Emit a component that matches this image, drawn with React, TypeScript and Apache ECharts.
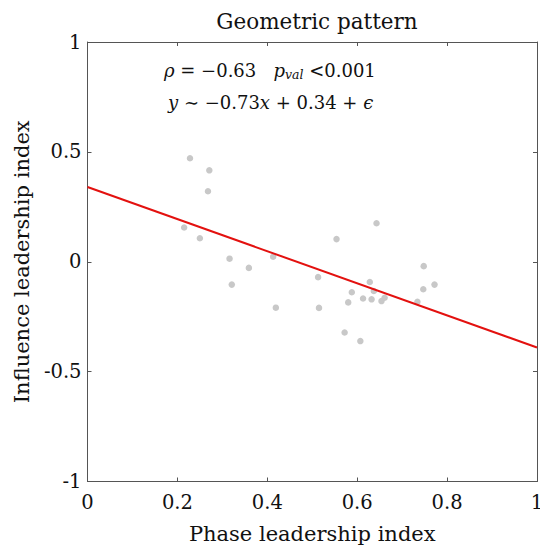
import React, { useEffect, useRef } from "react";
import * as echarts from "echarts";

const phaseIndex = [
  0.228, 0.271, 0.268, 0.215, 0.250, 0.316, 0.321, 0.359, 0.413, 0.419,
  0.513, 0.515, 0.554, 0.572, 0.580, 0.588, 0.607, 0.613, 0.628, 0.632,
  0.637, 0.643, 0.654, 0.661, 0.734, 0.747, 0.748, 0.772,
];
const influenceIndex = [
  0.471, 0.416, 0.321, 0.156, 0.107, 0.014, -0.104, -0.028, 0.023, -0.209,
  -0.070, -0.210, 0.103, -0.322, -0.185, -0.139, -0.361, -0.167, -0.092, -0.171,
  -0.133, 0.175, -0.179, -0.164, -0.182, -0.125, -0.020, -0.104,
];
const fitSlope = -0.73;
const fitIntercept = 0.34;
const fitX = [0, 1];
const xTicks = { min: 0, max: 1, interval: 0.2 };
const yTicks = { min: -1, max: 1, interval: 0.5 };

const FONT = "'DejaVu Serif', serif";

export default function App() {
  const ref = useRef<HTMLDivElement>(null);
  useEffect(() => {
    if (!ref.current) return;
    const chart = echarts.init(ref.current, undefined, { renderer: "svg" });
    const scatter = phaseIndex.map((x, i) => [x, influenceIndex[i]]);
    const fit = fitX.map((x) => [x, fitSlope * x + fitIntercept]);
    const axisLine = { show: true, onZero: false, lineStyle: { color: "#555", width: 1 } };
    const axisTick = { show: true, inside: true, length: 4, lineStyle: { color: "#555" } };
    chart.setOption({
      animation: false,
      backgroundColor: "#fff",
      title: {
        text: "Geometric pattern",
        left: 312,
        textAlign: "center",
        top: 5,
        textStyle: { fontFamily: FONT, fontSize: 21.5, fontWeight: "normal", color: "#111" },
      },
      grid: { left: 87.5, right: 3, top: 42, bottom: 64.5, containLabel: false, outerBoundsMode: "none" },
      xAxis: [
        {
          type: "value",
          min: xTicks.min,
          max: xTicks.max,
          interval: xTicks.interval,
          name: "Phase leadership index",
          nameLocation: "middle",
          nameGap: 42,
          nameTextStyle: { fontFamily: FONT, fontSize: 21, color: "#111" },
          axisLine,
          axisTick,
          axisLabel: { fontFamily: FONT, fontSize: 19.5, color: "#111", margin: 11 },
          splitLine: { show: false },
        },
        {
          type: "value",
          position: "top",
          min: xTicks.min,
          max: xTicks.max,
          interval: xTicks.interval,
          axisLine,
          axisTick,
          axisLabel: { show: false },
          splitLine: { show: false },
        },
      ],
      yAxis: [
        {
          type: "value",
          min: yTicks.min,
          max: yTicks.max,
          interval: yTicks.interval,
          name: "Influence leadership index",
          nameLocation: "middle",
          nameGap: 55,
          nameTextStyle: { fontFamily: FONT, fontSize: 21, color: "#111" },
          axisLine,
          axisTick,
          axisLabel: { fontFamily: FONT, fontSize: 19.5, color: "#111", margin: 6 },
          splitLine: { show: false },
        },
        {
          type: "value",
          position: "right",
          min: yTicks.min,
          max: yTicks.max,
          interval: yTicks.interval,
          axisLine,
          axisTick,
          axisLabel: { show: false },
          splitLine: { show: false },
        },
      ],
      graphic: [
        {
          type: "text",
          left: 164,
          top: 61,
          style: {
            text: "{i|ρ} = −0.63   {i|p}{sub|val} <0.001",
            font: `18px ${FONT}`,
            fill: "#111",
            rich: {
              i: { fontFamily: FONT, fontSize: 18, fontStyle: "italic", fill: "#111" },
              sub: { fontFamily: FONT, fontSize: 12.5, fontStyle: "italic", fill: "#111", padding: [8, 0, 0, 0] },
            },
          },
        },
        {
          type: "text",
          left: 168,
          top: 93,
          style: {
            text: "{i|y} ∼ −0.73{i|x} + 0.34 + {i|ϵ}",
            font: `18px ${FONT}`,
            fill: "#111",
            rich: {
              i: { fontFamily: FONT, fontSize: 18, fontStyle: "italic", fill: "#111" },
            },
          },
        },
      ],
      series: [
        {
          type: "scatter",
          data: scatter,
          symbolSize: 6.5,
          itemStyle: { color: "#c8c8c8", opacity: 1 },
          z: 2,
        },
        {
          type: "line",
          data: fit,
          symbol: "none",
          lineStyle: { color: "#e3110f", width: 2 },
          z: 3,
        },
      ],
    });
    return () => chart.dispose();
  }, []);
  return (
    <div
      ref={ref}
      style={{ position: "fixed", left: 0, top: 0, width: 540, height: 546 }}
    />
  );
}
